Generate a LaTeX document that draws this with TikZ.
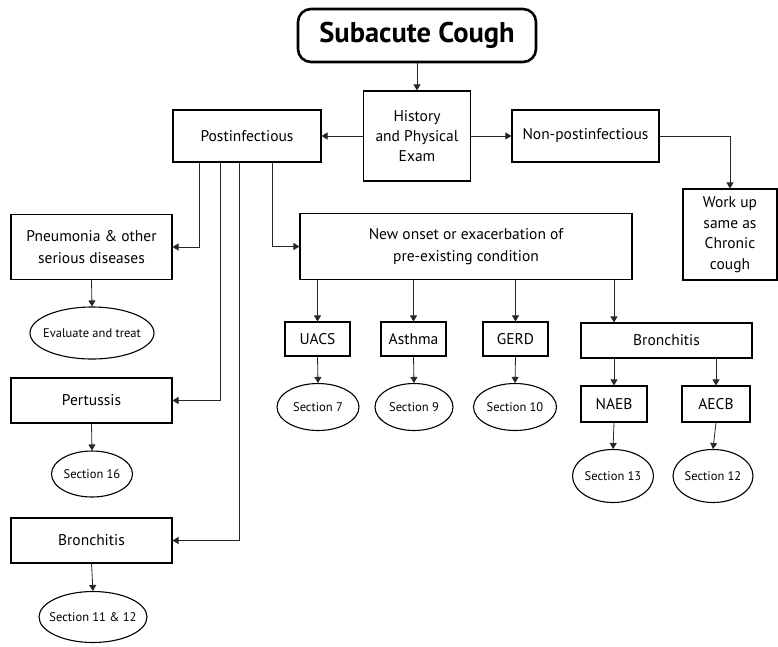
\documentclass[tikz,border=0pt]{standalone}
\usepackage{fontspec}
\setmainfont{PT Sans}
\usetikzlibrary{shapes.geometric}
\usetikzlibrary{arrows.meta}

\tikzset{
  box/.style={draw, rectangle, line width=1.1pt, align=center, font=\fontsize{15.5}{18}\selectfont, inner sep=1pt},
  oval/.style={draw, ellipse, line width=1.1pt, align=center, font=\fontsize{12.5}{14}\selectfont, inner ysep=0pt, inner xsep=-3pt},
  arr/.style={-{Triangle[width=7pt,length=6pt]}, line width=0.8pt, draw=black!85},
}

\begin{document}
\begin{tikzpicture}[x=1pt, y=-1pt]
            \useasboundingbox (0,0) rectangle (778,646);
            % Top of the chart
            \node[draw, rounded corners=13pt, line width=2.6pt, minimum width=238pt, minimum height=53pt, font=\fontsize{28.5}{32}\selectfont\bfseries] (title) at (417,35.5) {Subacute Cough};
            \node[box, minimum width=107pt, minimum height=90pt, font=\fontsize{15.5}{20}\selectfont] (hist) at (417,136) {History\\and Physical\\Exam};
            \node[box, minimum width=148pt, minimum height=52pt] (post) at (247,136) {Postinfectious};
            \node[box, minimum width=147pt, minimum height=52pt] (nonpost) at (585.5,136) {Non-postinfectious};
            \node[box, minimum width=94pt, minimum height=91pt, font=\fontsize{15.5}{20.5}\selectfont] (workup) at (730,234.5) {Work up\\same as\\Chronic\\cough};

            % Postinfectious branch
            \node[box, minimum width=161pt, minimum height=65pt, font=\fontsize{15.5}{22}\selectfont] (pneu) at (91.5,247) {Pneumonia \& other\\serious diseases};
            \node[oval, minimum width=124pt, minimum height=52pt, inner xsep=-7pt] (eval) at (92,333) {Evaluate and treat};
            \node[box, minimum width=161pt, minimum height=45pt] (pert) at (91.5,400.5) {Pertussis};
            \node[oval, minimum width=81pt, minimum height=46pt] (sec16) at (92,474) {Section 16};
            \node[box, minimum width=161pt, minimum height=45pt] (bronL) at (91.5,540.5) {Bronchitis};
            \node[oval, minimum width=108pt, minimum height=51pt, inner xsep=-8pt] (sec1112) at (93,617) {Section 11 \& 12};

            % New onset branch
            \node[box, minimum width=332pt, minimum height=66pt, font=\fontsize{15.5}{22}\selectfont] (newon) at (466,246.5) {New onset or exacerbation of\\pre-existing condition};
            \node[box, minimum width=65pt, minimum height=34pt] (uacs) at (317.5,339) {UACS};
            \node[box, minimum width=65pt, minimum height=34pt] (asthma) at (413.5,339) {Asthma};
            \node[box, minimum width=65pt, minimum height=34pt] (gerd) at (515.5,339) {GERD};
            \node[oval, minimum width=82pt, minimum height=47pt] (sec7) at (318,407) {Section 7};
            \node[oval, minimum width=78pt, minimum height=47pt] (sec9) at (414,407) {Section 9};
            \node[oval, minimum width=83pt, minimum height=47pt] (sec10) at (515,407) {Section 10};
            \node[box, minimum width=171pt, minimum height=35pt] (bronR) at (666.5,340.5) {Bronchitis};
            \node[box, minimum width=66pt, minimum height=36pt] (naeb) at (614,404) {NAEB};
            \node[box, minimum width=68pt, minimum height=36pt] (aecb) at (716,404) {AECB};
            \node[oval, minimum width=81pt, minimum height=53pt] (sec13) at (613,476) {Section 13};
            \node[oval, minimum width=80pt, minimum height=53pt] (sec12) at (713,476) {Section 12};

            \draw[arr] (title.south) -- (hist.north);
            \draw[arr] (hist.west) -- (post.east);
            \draw[arr] (hist.east) -- (nonpost.east -| nonpost.west);
            \draw[arr] (nonpost.east) -| (workup.north);

            \draw[arr] ([xshift=27pt]post.south west) |- (pneu.east);
            \draw[arr] ([xshift=48pt]post.south west) |- (pert.east);
            \draw[arr] ([xshift=67pt]post.south west) |- (bronL.east);
            \draw[arr] ([xshift=100pt]post.south west) |- (newon.west);
            \draw[arr] (pneu.south) -- (eval.north);
            \draw[arr] (pert.south) -- (sec16.north);
            \draw[arr] (bronL.south) -- (sec1112.north);

            \draw[arr] (newon.south -| uacs) -- (uacs.north);
            \draw[arr] (newon.south -| asthma) -- (asthma.north);
            \draw[arr] (newon.south -| gerd) -- (gerd.north);
            \draw[arr] (newon.south -| naeb) -- (bronR.north -| naeb);
            \draw[arr] (uacs.south) -- (sec7.north);
            \draw[arr] (asthma.south) -- (sec9.north);
            \draw[arr] (gerd.south) -- (sec10.north);
            \draw[arr] (bronR.south -| naeb) -- (naeb.north);
            \draw[arr] (bronR.south -| aecb) -- (aecb.north);
            \draw[arr] (naeb.south) -- (sec13.north);
            \draw[arr] (aecb.south) -- (sec12.north);
\end{tikzpicture}
\end{document}
